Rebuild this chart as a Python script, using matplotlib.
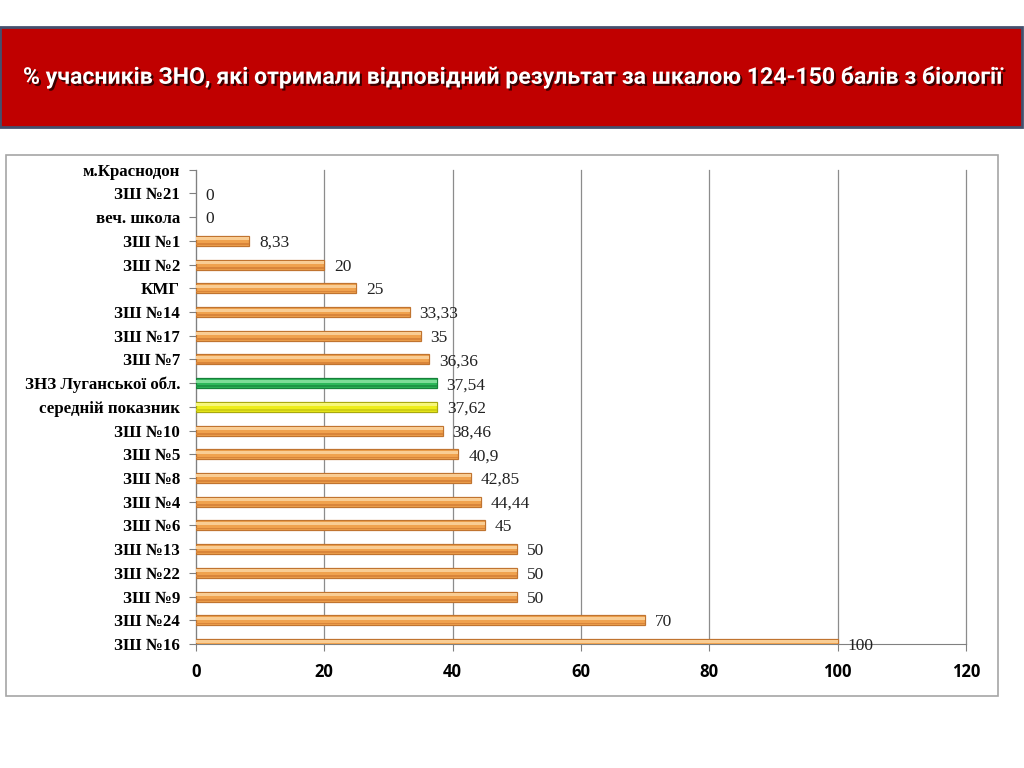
import numpy as np
import matplotlib.pyplot as plt
import matplotlib.patheffects as pe
from matplotlib.patches import Rectangle

# categories from bottom to top
schools = ['ЗШ №16', 'ЗШ №24', 'ЗШ №9', 'ЗШ №22', 'ЗШ №13', 'ЗШ №6', 'ЗШ №4',
           'ЗШ №8', 'ЗШ №5', 'ЗШ №10', 'середній показник', 'ЗНЗ Луганської обл.',
           'ЗШ №7', 'ЗШ №17', 'ЗШ №14', 'КМГ', 'ЗШ №2', 'ЗШ №1', 'веч. школа',
           'ЗШ №21', 'м.Краснодон']
percent = [100, 70, 50, 50, 50, 45, 44.44, 42.85, 40.9, 38.46, 37.62, 37.54,
           36.36, 35, 33.33, 25, 20, 8.33, 0, 0, np.nan]
x_ticks = [0, 20, 40, 60, 80, 100, 120]


def fmt(v):
    if v == int(v):
        return str(int(v))
    return ('%g' % v).replace('.', ',')


fig = plt.figure(figsize=(10.24, 7.68), dpi=100)

# red title banner
fig.patches.append(Rectangle((0.0, 0.8346), 0.998, 0.1302, transform=fig.transFigure,
                             facecolor='#C00000', edgecolor='#44506E', linewidth=2, zorder=-2))
fig.text(0.5, 0.8997, '% учасників ЗНО, які отримали відповідний результат за шкалою 124-150 балів з біології',
         ha='center', va='center', color='white', fontsize=16.6, fontweight='bold',
         family=['Roboto', 'DejaVu Sans'],
         path_effects=[pe.withSimplePatchShadow(offset=(1.5, -1.5), shadow_rgbFace='black', alpha=0.7)])

# chart frame
fig.patches.append(Rectangle((0.006, 0.094), 0.9686, 0.704, transform=fig.transFigure,
                             facecolor='white', edgecolor='#A6A6A6', linewidth=1.2, zorder=-2))

ax = fig.add_axes([0.1914, 0.1615, 0.752, 0.6175])
ax.set_facecolor('none')

y = np.arange(len(schools))
base, light, dark, edge = [], [], [], []
for s in schools:
    if s == 'ЗНЗ Луганської обл.':
        base.append('#2DB85A'); light.append('#7EDC98'); dark.append('#1F9446'); edge.append('#17803A')
    elif s == 'середній показник':
        base.append('#EDED1A'); light.append('#F7F77A'); dark.append('#CFCF12'); edge.append('#A8A810')
    else:
        base.append('#F0A24E'); light.append('#F9CD94'); dark.append('#D9853A'); edge.append('#C07430')

vals = np.nan_to_num(np.array(percent, dtype=float))
lw = np.where(vals > 0, 0.9, 0.0)
h = 0.42
ax.barh(y, vals, height=h, color=base, edgecolor=edge, linewidth=lw, zorder=3)
# shading: light band on top, darker band at the bottom
ax.barh(y + h * 0.2, vals, height=h * 0.3, color=light, linewidth=0, zorder=4)
ax.barh(y - h * 0.32, vals, height=h * 0.18, color=dark, linewidth=0, zorder=4)

for yi, v in zip(y, percent):
    if np.isnan(v):
        continue
    ax.annotate(fmt(v), (v, yi), xytext=(7, -1.5), textcoords='offset points',
                ha='left', va='center', fontsize=12.5, family='Liberation Serif',
                color='#222222', zorder=5, annotation_clip=False)

ax.set_xlim(0, 120)
ax.set_ylim(0, len(schools) - 1)
ax.set_xticks(x_ticks)
ax.set_yticks(y)
ax.set_yticklabels(schools, family='Liberation Serif', fontweight='bold', fontsize=12.2)
ax.set_xticklabels([str(t) for t in x_ticks], family='Open Sans', fontweight='bold', fontsize=12)
ax.tick_params(axis='y', length=5, color='#808080', pad=6.5)
ax.tick_params(axis='x', length=5, color='#808080', pad=9)
ax.xaxis.grid(True, color='#8C8C8C', linewidth=0.9, zorder=0)
for gl in ax.get_xgridlines():
    gl.set_clip_on(False)
for side in ['top', 'right']:
    ax.spines[side].set_visible(False)
ax.spines['left'].set_color('#808080')
ax.spines['bottom'].set_color('#808080')

fig.savefig('out.png', dpi=100)
